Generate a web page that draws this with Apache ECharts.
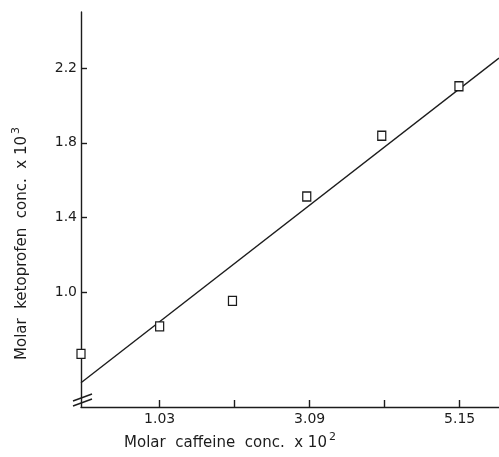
<!DOCTYPE html>
<html>
<head>
<meta charset="utf-8">
<script src="https://cdn.jsdelivr.net/npm/echarts@6/dist/echarts.min.js"></script>
<style>
html,body{margin:0;padding:0;background:#fff;}
#chart{width:499px;height:457px;}
</style>
</head>
<body>
<div id="chart"></div>
<script>
// Data
var caffeineX = [-0.05, 1.03, 2.03, 3.05, 4.08, 5.14];
var ketoprofenY = [0.671, 0.818, 0.955, 1.513, 1.838, 2.103];
var fitX = [-0.05, 5.69];
var fitY = [0.517, 2.253];
var xTickValues = [1.03, 2.06, 3.09, 4.12, 5.15];
var xLabelValues = [1.03, 3.09, 5.15];
var yTickValues = [1.0, 1.4, 1.8, 2.2];
var xRange = [-0.05, 5.69];
var yRange = [0.387, 2.5];

var ink = '#1c1c1c';
var font = 'DejaVu Sans';

var chart = echarts.init(document.getElementById('chart'), null, {renderer: 'canvas'});

var pts = caffeineX.map(function (x, i) { return [x, ketoprofenY[i]]; });
var fitPts = fitX.map(function (x, i) { return [x, fitY[i]]; });

chart.setOption({
  backgroundColor: '#fff',
  animation: false,
  grid: {left: 81, right: 0, top: 12, bottom: 50, containLabel: false},
  xAxis: {
    type: 'value',
    min: xRange[0], max: xRange[1],
    axisLine: {show: true, onZero: false, lineStyle: {color: ink, width: 1.4}},
    axisTick: {show: true, inside: true, length: 7, customValues: xTickValues, lineStyle: {color: ink, width: 1.4}},
    axisLabel: {customValues: xLabelValues, color: ink, fontFamily: font, fontSize: 14, margin: 5,
      formatter: function (v) { return v.toFixed(2); }},
    splitLine: {show: false},
    name: 'Molar  caffeine  conc.  x 10{s|2}',
    nameLocation: 'middle',
    nameGap: 25,
    nameTextStyle: {color: ink, fontFamily: font, fontSize: 15, padding: [0, 120, 0, 0],
      rich: {s: {fontSize: 11, fontFamily: font, color: ink, padding: [0, 0, 12, 2]}}}
  },
  yAxis: {
    type: 'value',
    min: yRange[0], max: yRange[1],
    axisLine: {show: true, onZero: false, lineStyle: {color: ink, width: 1.4}},
    axisTick: {show: true, inside: true, length: 6, customValues: yTickValues, lineStyle: {color: ink, width: 1.4}},
    axisLabel: {customValues: yTickValues, color: ink, fontFamily: font, fontSize: 14, margin: 4,
      formatter: function (v) { return v.toFixed(1); }},
    splitLine: {show: false},
    name: 'Molar  ketoprofen  conc.  x 10{s|3}',
    nameLocation: 'middle',
    nameGap: 47,
    nameTextStyle: {color: ink, fontFamily: font, fontSize: 15, padding: [0, 68, 0, 0],
      rich: {s: {fontSize: 11, fontFamily: font, color: ink, padding: [0, 0, 12, 2]}}}
  },
  series: [
    {
      type: 'line',
      data: fitPts,
      showSymbol: false,
      lineStyle: {color: ink, width: 1.4},
      z: 2,
      silent: true
    },
    {
      type: 'scatter',
      data: pts,
      symbol: 'rect',
      symbolSize: [8, 9],
      itemStyle: {color: '#fff', borderColor: ink, borderWidth: 1.3, opacity: 1},
      z: 3
    }
  ]
});

// axis-break mark on the y axis near the origin
var o = chart.convertToPixel({gridIndex: 0}, [xRange[0], yRange[0]]);
chart.setOption({
  graphic: [
    {type: 'line', shape: {x1: o[0] - 8, y1: o[1] - 6, x2: o[0] + 11, y2: o[1] - 13}, style: {stroke: ink, lineWidth: 1.4}},
    {type: 'line', shape: {x1: o[0] - 8, y1: o[1] - 1, x2: o[0] + 11, y2: o[1] - 8}, style: {stroke: ink, lineWidth: 1.4}}
  ]
});
</script>
</body>
</html>
